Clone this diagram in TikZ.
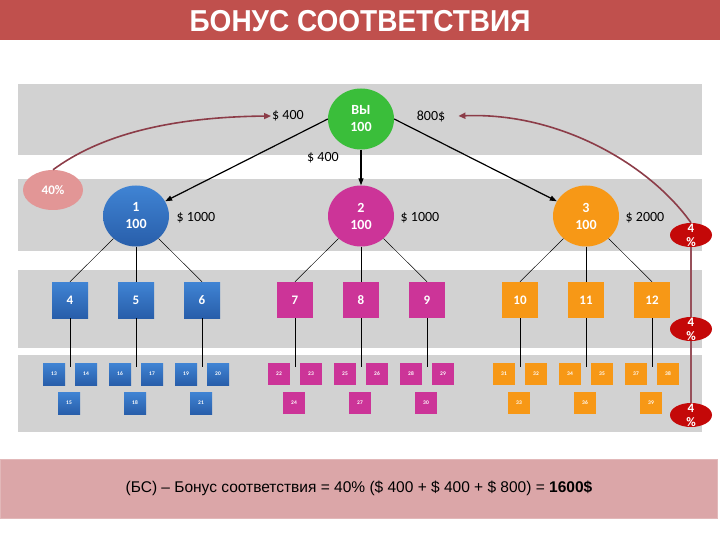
\documentclass[tikz,border=0pt]{standalone}
\usepackage{fontspec}
\setmainfont{Carlito}
\newfontfamily\arialfont{Liberation Sans}
\usetikzlibrary{shapes.geometric,arrows.meta}
\definecolor{titlered}{RGB}{192,80,77}
\definecolor{bandgray}{RGB}{210,210,210}
\definecolor{yougreen}{RGB}{58,190,58}
\definecolor{topblue}{RGB}{64,132,212}
\definecolor{botblue}{RGB}{40,94,170}
\definecolor{legmagenta}{RGB}{204,52,152}
\definecolor{legorange}{RGB}{247,152,22}
\definecolor{sharepink}{RGB}{226,150,150}
\definecolor{pctred}{RGB}{196,8,8}
\definecolor{curvebrown}{RGB}{140,60,72}
\definecolor{sumpink}{RGB}{219,166,168}
\begin{document}
\begin{tikzpicture}[x=1pt, y=-1pt,
  level 1/.style={sibling distance=225pt, level distance=97pt,
    edge from parent/.style={draw, line width=1.2pt, -{Triangle[length=7pt,width=5pt]}}},
  level 2/.style={sibling distance=66pt, level distance=84pt,
    edge from parent/.style={draw, line width=0.5pt},
    edge from parent path={(\tikzparentnode) -- (\tikzchildnode.north)}},
  fromwest/.style={edge from parent path={(\tikzparentnode.west) -- (\tikzchildnode)}},
  fromeast/.style={edge from parent path={(\tikzparentnode.east) -- (\tikzchildnode)}},
  circ/.style={ellipse, minimum width=66pt, minimum height=61pt, inner sep=0pt,
    align=center, text=white, font=\bfseries\fontsize{14}{17}\selectfont},
  sq/.style={rectangle, minimum size=36pt, inner sep=0pt, text=white,
    font=\bfseries\fontsize{13}{15}\selectfont},
  smallsq/.style={rectangle, minimum size=22pt, inner sep=0pt, text=white,
    font=\bfseries\fontsize{5.5}{6}\selectfont},
  bluefill/.style={top color=topblue, bottom color=botblue},
  pinkfill/.style={fill=legmagenta},
  orangefill/.style={fill=legorange},
  lbl/.style={inner sep=1pt, font=\fontsize{14}{16}\selectfont},
  pct/.style={ellipse, fill=pctred, minimum width=42pt, minimum height=24pt, inner sep=0pt},
  pcttext/.style={align=center, text=white, font=\bfseries\fontsize{13}{14}\selectfont},
  curve/.style={draw=curvebrown, line width=1.6pt, -{Triangle[length=7pt,width=6pt]}}
  ]
  \useasboundingbox (0,0) rectangle (720,540);
  % bands
  \fill[titlered] (0,0) rectangle (720,40);
  \fill[bandgray] (18,84) rectangle (702,155);
  \fill[bandgray] (18,179) rectangle (702,251);
  \fill[bandgray] (18,270) rectangle (702,348);
  \fill[bandgray] (18,355) rectangle (702,432);
  \node[text=white, font=\arialfont\bfseries\fontsize{28}{30}\selectfont, yscale=1.08] (title) at (360,21) {БОНУС СООТВЕТСТВИЯ};

  % tree
  \node[circ, fill=yougreen] (you) at (361,119) {ВЫ\\100}
    child[fromwest] { node[circ, bluefill] (c1) {1\\100}
      child { node[sq, bluefill] (s4) {4} }
      child { node[sq, bluefill] (s5) {5} }
      child { node[sq, bluefill] (s6) {6} }
    }
    child { node[circ, pinkfill] (c2) {2\\100}
      child { node[sq, pinkfill] (s7) {7} }
      child { node[sq, pinkfill] (s8) {8} }
      child { node[sq, pinkfill] (s9) {9} }
    }
    child[fromeast] { node[circ, orangefill] (c3) {3\\100}
      child { node[sq, orangefill] (s10) {10} }
      child { node[sq, orangefill] (s11) {11} }
      child { node[sq, orangefill] (s12) {12} }
    };

  % third line
  \foreach \p/\a/\b/\c/\col in {s4/13/14/15/bluefill, s5/16/17/18/bluefill, s6/19/20/21/bluefill,
      s7/22/23/24/pinkfill, s8/25/26/27/pinkfill, s9/28/29/30/pinkfill,
      s10/31/32/33/orangefill, s11/34/35/36/orangefill, s12/37/38/39/orangefill} {
    \coordinate (j\a) at ([yshift=-67pt]\p);
    \draw[line width=0.8pt] (\p.south) -- (j\a);
    \node[smallsq, \col] (q\a) at ([shift={(-16,74)}]\p) {\a};
    \node[smallsq, \col] (q\b) at ([shift={(16,74)}]\p) {\b};
    \node[smallsq, \col] (q\c) at ([shift={(-1,103)}]\p) {\c};
  }

  % money
  \node[lbl] (m400a) at (288,116) {\$ 400};
  \node[lbl] (m800) at (431,116) {800\$};
  \node[lbl] (m400b) at (323,158) {\$ 400};
  \node[lbl] (m1000a) at (196,218) {\$ 1000};
  \node[lbl] (m1000b) at (420,218) {\$ 1000};
  \node[lbl] (m2000) at (645,218) {\$ 2000};

  % percents
  \node[ellipse, fill=sharepink, minimum width=60pt, minimum height=40pt, inner sep=0pt,
    text=white, font=\bfseries\fontsize{13}{15}\selectfont] (share) at (53,190) {40\%};
  \node[pct, label={[pcttext]center:{4\\\%}}] (p1) at (691,235) {};
  \node[pct, label={[pcttext]center:{4\\\%}}] (p3) at (691,415) {};
  \draw[curvebrown!90!white, line width=2pt] (p1.south) -- (p3.north);
  \node[pct, label={[pcttext]center:{4\\\%}}] (p2) at (691,329) {};

  \draw[curve] (share.north) .. controls (100,135) and (170,117) .. (m400a.west);
  \draw[curve] (p1.north) .. controls (650,165) and (560,112) .. ([xshift=12pt]m800.east);

  % sum
  \node[rectangle, fill=sumpink, draw=sumpink!80!white, minimum width=717pt, minimum height=59pt,
    font=\arialfont\fontsize{15.5}{17}\selectfont] (sum) at (359,488.5)
    {(БС) – Бонус соответствия = 40\% (\$ 400 + \$ 400 + \$ 800) = \textbf{1600\$}};
\end{tikzpicture}
\end{document}
